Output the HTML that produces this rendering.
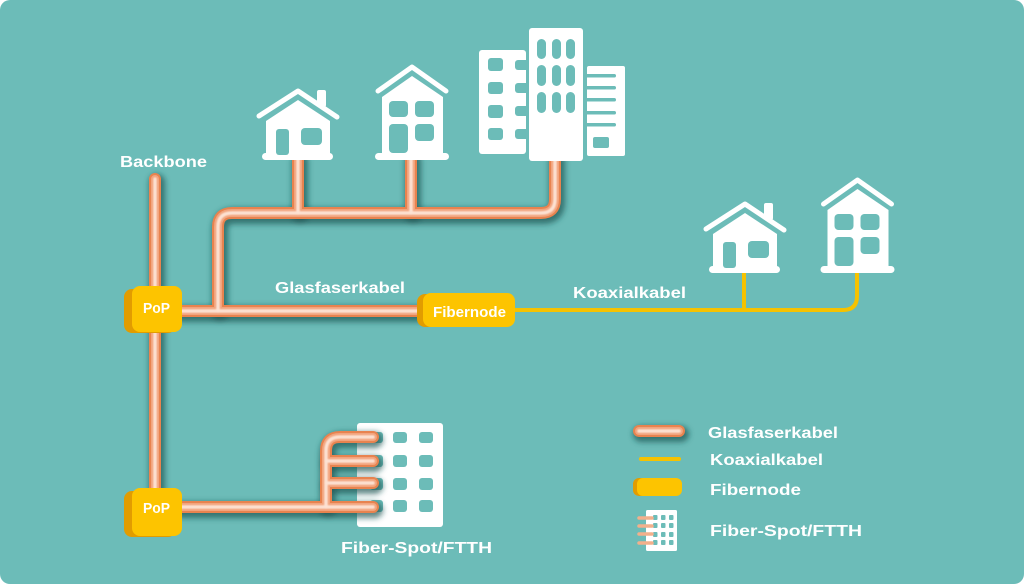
<!DOCTYPE html>
<html><head><meta charset="utf-8"><style>
html,body{margin:0;padding:0;background:#fff;}
svg{display:block;}
text{font-family:"Liberation Sans",Arial,sans-serif;font-weight:bold;fill:#fff;}
</style></head><body>
<svg width="1024" height="584" viewBox="0 0 1024 584" xmlns="http://www.w3.org/2000/svg">
<defs>
<filter id="blur" filterUnits="userSpaceOnUse" x="0" y="0" width="1024" height="584"><feGaussianBlur stdDeviation="3"/></filter>
<filter id="blur1" filterUnits="userSpaceOnUse" x="0" y="0" width="1024" height="584"><feGaussianBlur stdDeviation="0.8"/></filter>
<g id="pipes">
<path d="M155,179 V488"/>
<path d="M555,158 V199 Q555,213 541,213 H232 Q218,213 218,227 V311"/>
<path d="M298,158 V213"/>
<path d="M411,158 V213"/>
<path d="M180,311 H420"/>
<path d="M180,507 H373"/>
<path d="M326,507 V451 Q326,437 340,437 H373"/>
<path d="M326,461 H373"/>
<path d="M326,483 H373"/>
<path d="M639,431 H679"/>
</g>
<g id="house1">
<polyline points="259,116 298,91 337,117" fill="none" stroke="#fff" stroke-width="5" stroke-linecap="round" stroke-linejoin="round"/>
<rect x="317" y="90" width="9" height="17" rx="2" fill="#fff"/>
<polygon points="266,121 298,100 330,121 330,154 266,154" fill="#fff"/>
<rect x="262" y="153" width="71" height="7" rx="3.5" fill="#fff"/>
<rect x="276" y="129" width="13" height="26" rx="3" fill="#6cbcb8"/>
<rect x="301" y="128" width="21" height="17" rx="4" fill="#6cbcb8"/>
</g>
<g id="house2">
<polyline points="378,91 412,67 446,91" fill="none" stroke="#fff" stroke-width="5" stroke-linecap="round" stroke-linejoin="round"/>
<polygon points="382,97 412,76 443,97 443,154 382,154" fill="#fff"/>
<rect x="375" y="153" width="74" height="7" rx="3.5" fill="#fff"/>
<rect x="389" y="101" width="19" height="16" rx="4" fill="#6cbcb8"/>
<rect x="415" y="101" width="19" height="16" rx="4" fill="#6cbcb8"/>
<rect x="389" y="124" width="19" height="29" rx="4" fill="#6cbcb8"/>
<rect x="415" y="124" width="19" height="17" rx="4" fill="#6cbcb8"/>
</g>
</defs>

<rect x="0" y="0" width="1024" height="584" rx="10" fill="#6cbcb8"/>

<!-- bottom FTTH building (under pipes) -->
<rect x="357" y="423" width="86" height="104" rx="3" fill="#fff"/>
<g fill="#6cbcb8">
<rect x="370" y="432" width="13" height="11" rx="3"/><rect x="393" y="432" width="14" height="11" rx="3"/><rect x="419" y="432" width="14" height="11" rx="3"/>
<rect x="370" y="455" width="13" height="12" rx="3"/><rect x="393" y="455" width="14" height="12" rx="3"/><rect x="419" y="455" width="14" height="12" rx="3"/>
<rect x="370" y="478" width="13" height="12" rx="3"/><rect x="393" y="478" width="14" height="12" rx="3"/><rect x="419" y="478" width="14" height="12" rx="3"/>
<rect x="370" y="500" width="13" height="12" rx="3"/><rect x="393" y="500" width="14" height="12" rx="3"/><rect x="419" y="500" width="14" height="12" rx="3"/>
</g>

<!-- pipes -->
<g fill="none" stroke-linecap="round" stroke-linejoin="round">
<use href="#pipes" stroke="#1f5553" stroke-opacity="0.7" stroke-width="16" transform="translate(2,3)" filter="url(#blur)"/>
<use href="#pipes" stroke="#e8834f" stroke-width="12"/>
<use href="#pipes" stroke="#f2a37c" stroke-width="8"/>
<use href="#pipes" stroke="#fde2d3" stroke-width="3.5" filter="url(#blur1)"/>
</g>

<!-- coax -->
<g fill="none" stroke="#f6c200" stroke-width="4" stroke-linecap="round">
<path d="M515,310 H843 Q857,310 857,296 V272"/>
<path d="M744,272 V310"/>
<path d="M641,459 H679"/>
</g>

<!-- houses -->
<use href="#house1"/>
<use href="#house2"/>
<use href="#house1" transform="translate(447,113)"/>
<use href="#house2" transform="translate(445.5,113)"/>

<!-- building group -->
<rect x="479" y="50" width="47" height="104" rx="3" fill="#fff"/>
<g fill="#6cbcb8">
<rect x="488" y="58" width="15" height="13" rx="3"/>
<rect x="488" y="82" width="15" height="12" rx="3"/>
<rect x="488" y="105" width="15" height="13" rx="3"/>
<rect x="488" y="128" width="15" height="12" rx="3"/>
<rect x="515" y="60" width="14" height="10" rx="3"/>
<rect x="515" y="83" width="14" height="10" rx="3"/>
<rect x="515" y="106" width="14" height="10" rx="3"/>
<rect x="515" y="129" width="14" height="10" rx="3"/>
</g>
<rect x="529" y="28" width="54" height="133" rx="3" fill="#fff"/>
<g fill="#6cbcb8">
<rect x="537" y="39" width="9" height="20" rx="4.5"/><rect x="552" y="39" width="9" height="20" rx="4.5"/><rect x="566" y="39" width="9" height="20" rx="4.5"/>
<rect x="537" y="65" width="9" height="21" rx="4.5"/><rect x="552" y="65" width="9" height="21" rx="4.5"/><rect x="566" y="65" width="9" height="21" rx="4.5"/>
<rect x="537" y="92" width="9" height="21" rx="4.5"/><rect x="552" y="92" width="9" height="21" rx="4.5"/><rect x="566" y="92" width="9" height="21" rx="4.5"/>
</g>
<rect x="587" y="66" width="38" height="90" rx="2" fill="#fff"/>
<g fill="#6cbcb8">
<rect x="584" y="74" width="32" height="3.5" rx="1.75"/>
<rect x="584" y="86" width="32" height="3.5" rx="1.75"/>
<rect x="584" y="98" width="32" height="3.5" rx="1.75"/>
<rect x="584" y="111" width="32" height="3.5" rx="1.75"/>
<rect x="584" y="123" width="32" height="3.5" rx="1.75"/>
<rect x="593" y="137" width="16" height="11" rx="2"/>
</g>

<!-- PoP / Fibernode boxes -->
<rect x="124" y="289" width="52" height="44" rx="8" fill="#e29c00"/>
<rect x="132" y="286" width="50" height="46" rx="8" fill="#fdc400"/>
<rect x="124" y="491" width="52" height="46" rx="8" fill="#e29c00"/>
<rect x="132" y="488" width="50" height="48" rx="8" fill="#fdc400"/>
<rect x="417" y="294" width="90" height="33" rx="8" fill="#e29c00"/>
<rect x="423" y="293" width="92" height="34" rx="8" fill="#fdc400"/>
<text x="143" y="313" font-size="14.5" textLength="27" lengthAdjust="spacingAndGlyphs">PoP</text>
<text x="143" y="513" font-size="14.5" textLength="27" lengthAdjust="spacingAndGlyphs">PoP</text>
<text x="433" y="317" font-size="15" textLength="73" lengthAdjust="spacingAndGlyphs">Fibernode</text>

<!-- labels -->
<text x="120" y="167" font-size="15.5" textLength="87" lengthAdjust="spacingAndGlyphs">Backbone</text>
<text x="275" y="293" font-size="15.5" textLength="130" lengthAdjust="spacingAndGlyphs">Glasfaserkabel</text>
<text x="573" y="298" font-size="15.5" textLength="113" lengthAdjust="spacingAndGlyphs">Koaxialkabel</text>
<text x="341" y="553" font-size="15.5" textLength="151" lengthAdjust="spacingAndGlyphs">Fiber-Spot/FTTH</text>

<!-- legend -->
<rect x="633" y="478" width="45" height="18" rx="6" fill="#e29c00"/>
<rect x="637" y="478" width="45" height="18" rx="6" fill="#fdc400"/>
<rect x="646" y="510" width="31" height="41" rx="1.5" fill="#fff"/>
<g fill="#6cbcb8">
<rect x="653" y="515" width="4.5" height="5" rx="1"/><rect x="661" y="515" width="4.5" height="5" rx="1"/><rect x="669" y="515" width="4.5" height="5" rx="1"/>
<rect x="653" y="523" width="4.5" height="5" rx="1"/><rect x="661" y="523" width="4.5" height="5" rx="1"/><rect x="669" y="523" width="4.5" height="5" rx="1"/>
<rect x="653" y="532" width="4.5" height="5" rx="1"/><rect x="661" y="532" width="4.5" height="5" rx="1"/><rect x="669" y="532" width="4.5" height="5" rx="1"/>
<rect x="653" y="540" width="4.5" height="5" rx="1"/><rect x="661" y="540" width="4.5" height="5" rx="1"/><rect x="669" y="540" width="4.5" height="5" rx="1"/>
</g>
<g stroke="#f2b08c" stroke-width="3.5" stroke-linecap="round">
<path d="M639,518 H652"/><path d="M639,526 H652"/><path d="M639,534 H652"/><path d="M639,543 H652"/>
</g>
<text x="708" y="438" font-size="16" textLength="130" lengthAdjust="spacingAndGlyphs">Glasfaserkabel</text>
<text x="710" y="465" font-size="16" textLength="113" lengthAdjust="spacingAndGlyphs">Koaxialkabel</text>
<text x="710" y="495" font-size="16" textLength="91" lengthAdjust="spacingAndGlyphs">Fibernode</text>
<text x="710" y="536" font-size="16" textLength="152" lengthAdjust="spacingAndGlyphs">Fiber-Spot/FTTH</text>
</svg>
</body></html>
